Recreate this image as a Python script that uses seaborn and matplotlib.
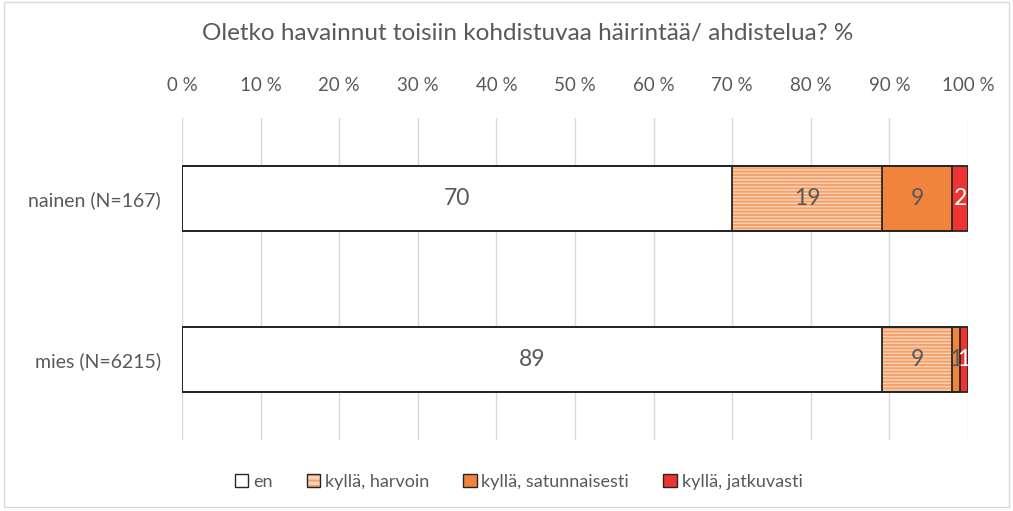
import numpy as np
import pandas as pd
import matplotlib
matplotlib.use('Agg')
import matplotlib.pyplot as plt
import matplotlib.colors as mcolors
from matplotlib.patches import Patch, Rectangle
import seaborn as sns

sns.set_style('white')
plt.rcParams['font.family'] = ['Lato', 'DejaVu Sans']
plt.rcParams['hatch.linewidth'] = 1.4

# data (percent)
groups = ['nainen (N=167)', 'mies (N=6215)']
series = ['en', 'kyllä, harvoin', 'kyllä, satunnaisesti', 'kyllä, jatkuvasti']
en = [70, 89]
harvoin = [19, 9]
satunnaisesti = [9, 1]
jatkuvasti = [2, 1]
ticks = [0, 10, 20, 30, 40, 50, 60, 70, 80, 90, 100]

colors = ['#FFFFFF', '#FAD3B7', '#F0843C', '#EE3430']
hatch_col = '#F4A06A'
edge = '#262626'
grey = '#595959'

df = pd.DataFrame({'group': groups, series[0]: en, series[1]: harvoin,
                   series[2]: satunnaisesti, series[3]: jatkuvasti})
cum = df[series].cumsum(axis=1)

fig, ax = plt.subplots(figsize=(10.13, 5.11), dpi=100)
fig.subplots_adjust(left=0.1797, right=0.9556, top=0.769, bottom=0.139)

# stacked bars as overlapping cumulative bars, largest first
for i in range(len(series) - 1, -1, -1):
    n_before = len(ax.patches)
    sns.barplot(x=cum[series[i]], y=df['group'], orient='h', color=colors[i],
                width=0.40, linewidth=0, saturation=1, ax=ax)
    if i == 1:
        for p in ax.patches[n_before:]:
            p.set_hatch('-----')
            p.set_edgecolor(hatch_col)
# outlines for all segments
for i in range(len(series)):
    sns.barplot(x=cum[series[i]], y=df['group'], orient='h', fill=False,
                width=0.40, edgecolor=edge, linewidth=1.3, ax=ax)

# value labels
for i, s in enumerate(series):
    for j in range(len(groups)):
        v = df[s][j]
        xc = cum[s][j] - v / 2
        ax.text(xc, j, f'{v}', ha='center', va='center', fontsize=16.5,
                color='white' if i == 3 else grey)

ax.set_xlim(0, 100)
ax.set_ylim(1.5, -0.5)
ax.set_xticks(ticks)
ax.set_xticklabels([f'{t} %' for t in ticks])
ax.xaxis.tick_top()
ax.tick_params(axis='x', length=0, pad=17, labelsize=13.5, labelcolor=grey)
ax.tick_params(axis='y', length=0, pad=15, labelsize=14, labelcolor=grey)
ax.grid(axis='x', color='#D9D9D9', linewidth=1)
ax.set_axisbelow(True)
ax.set_xlabel('')
ax.set_ylabel('')
sns.despine(ax=ax, left=True, bottom=True, top=True, right=True)

fig.suptitle('Oletko havainnut toisiin kohdistuvaa häirintää/ ahdistelua? %',
             x=0.521, y=0.955, fontsize=17.5, color=grey)

handles = [Patch(facecolor=colors[0], edgecolor=edge),
           Patch(facecolor=colors[1], edgecolor=edge, hatch='---'),
           Patch(facecolor=colors[2], edgecolor=edge),
           Patch(facecolor=colors[3], edgecolor=edge)]
leg = fig.legend(handles=handles, labels=series, loc='center', bbox_to_anchor=(0.512, 0.057),
                 ncol=4, frameon=False, fontsize=13, handlelength=0.75, handleheight=0.75,
                 handletextpad=0.25, columnspacing=1.9, labelcolor=grey)
# orange stripes but dark border on the hatched key
leg.legend_handles[1]._hatch_color = mcolors.to_rgba(hatch_col)

fig.patches.append(Rectangle((0.004, 0.008), 0.992, 0.988, transform=fig.transFigure,
                             fill=False, edgecolor='#D9D9D9', linewidth=1))
fig.savefig('out.png', dpi=100)
